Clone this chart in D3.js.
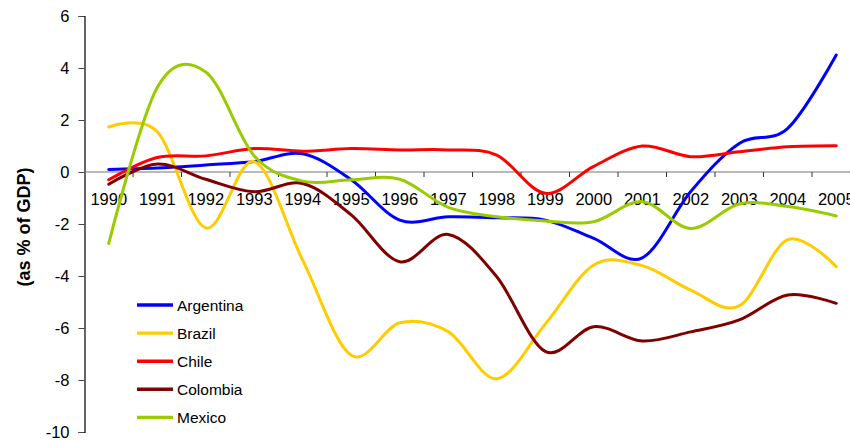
<!DOCTYPE html>
<html>
<head>
<meta charset="utf-8">
<script src="https://cdn.jsdelivr.net/npm/d3@7"></script>
<style>
  html, body { margin: 0; padding: 0; background: #fff; }
  svg { display: block; font-family: "Liberation Sans", Arial, sans-serif; }
</style>
</head>
<body>
<svg id="chart" width="850" height="440"></svg>
<script>
// Current account balance, 1990-2005 (as % of GDP)
const years = ["1990","1991","1992","1993","1994","1995","1996","1997",
               "1998","1999","2000","2001","2002","2003","2004","2005"];
const yTicks = [6, 4, 2, 0, -2, -4, -6, -8, -10];

const argentina = [0.1, 0.15, 0.27, 0.4, 0.7, -0.3, -1.85, -1.72, -1.76, -1.85, -2.55, -3.3, -0.75, 1.1, 1.68, 4.5];
const brazil    = [1.73, 1.55, -2.15, 0.4, -3.4, -7.05, -5.8, -6.14, -7.95, -5.85, -3.58, -3.6, -4.54, -5.15, -2.6, -3.64];
const chile     = [-0.3, 0.56, 0.62, 0.9, 0.8, 0.9, 0.85, 0.85, 0.65, -0.82, 0.22, 1.0, 0.59, 0.78, 0.97, 1.01];
const colombia  = [-0.47, 0.31, -0.28, -0.76, -0.44, -1.65, -3.45, -2.4, -4.03, -6.9, -5.95, -6.5, -6.15, -5.69, -4.73, -5.05];
const mexico    = [-2.75, 3.25, 3.85, 0.62, -0.35, -0.3, -0.28, -1.36, -1.72, -1.88, -1.91, -1.14, -2.17, -1.23, -1.33, -1.69];

const seriesNames  = ["Argentina", "Brazil", "Chile", "Colombia", "Mexico"];
const seriesValues = [argentina, brazil, chile, colombia, mexico];
const seriesColors = ["#0000ff", "#ffcc00", "#ff0000", "#800000", "#99cc00"];

const svg = d3.select("#chart");
const plot = { left: 84.5, right: 860.5, top: 16, bottom: 432 };

const x = d3.scaleBand().domain(years).range([plot.left, plot.right]).paddingInner(0).paddingOuter(0);
const y = d3.scaleLinear().domain([-10, 6]).range([plot.bottom, plot.top]);

svg.append("rect").attr("width", 850).attr("height", 440).attr("fill", "#fff");

// value axis
const yAxis = svg.append("g")
  .attr("transform", `translate(${plot.left},0)`)
  .call(d3.axisLeft(y).tickValues(yTicks).tickSize(6).tickPadding(9).tickFormat(d => String(d)));
yAxis.select(".domain").attr("stroke", "#000").attr("stroke-width", 1.2);
yAxis.selectAll(".tick line").attr("stroke", "#444");
yAxis.selectAll(".tick text").attr("font-size", 16.5).attr("fill", "#000")
  .attr("font-family", "'Liberation Sans', Arial, sans-serif");

// category axis crossing at zero, tick marks between categories
const xAxis = svg.append("g").attr("transform", `translate(0,${y(0)})`);
xAxis.append("line")
  .attr("x1", plot.left).attr("x2", plot.right)
  .attr("stroke", "#777").attr("stroke-width", 1.2);
xAxis.selectAll("line.tk")
  .data(years.slice(1))
  .join("line")
  .attr("class", "tk")
  .attr("x1", d => x(d)).attr("x2", d => x(d))
  .attr("y1", 0).attr("y2", 5)
  .attr("stroke", "#333");
xAxis.selectAll("text")
  .data(years)
  .join("text")
  .attr("x", d => x(d) + x.bandwidth() / 2)
  .attr("y", 32.5)
  .attr("text-anchor", "middle")
  .attr("font-size", 16.5)
  .attr("fill", "#000")
  .text(d => d);

// axis title
svg.append("text")
  .attr("transform", `translate(30,${(plot.top + plot.bottom) / 2 + 3}) rotate(-90)`)
  .attr("text-anchor", "middle")
  .attr("font-size", 18)
  .attr("font-weight", "bold")
  .attr("fill", "#000")
  .text("(as % of GDP)");

// series lines
const line = d3.line()
  .x((d, i) => x(years[i]) + x.bandwidth() / 2)
  .y(d => y(d))
  .curve(d3.curveCatmullRom.alpha(0));

const lines = svg.append("g");
seriesValues.forEach((vals, k) => {
  lines.append("path")
    .datum(vals)
    .attr("d", line)
    .attr("fill", "none")
    .attr("stroke", seriesColors[k])
    .attr("stroke-width", 3)
    .attr("stroke-linejoin", "round")
    .attr("stroke-linecap", "round");
});

// legend
const legend = svg.append("g").attr("transform", "translate(137,305)");
seriesNames.forEach((name, k) => {
  const row = legend.append("g").attr("transform", `translate(0,${k * 28.1})`);
  row.append("line")
    .attr("x1", 0).attr("x2", 36)
    .attr("stroke", seriesColors[k]).attr("stroke-width", 3.4);
  row.append("text")
    .attr("x", 40).attr("y", 5.5)
    .attr("font-size", 15.5)
    .attr("fill", "#000")
    .text(name);
});
</script>
</body>
</html>
